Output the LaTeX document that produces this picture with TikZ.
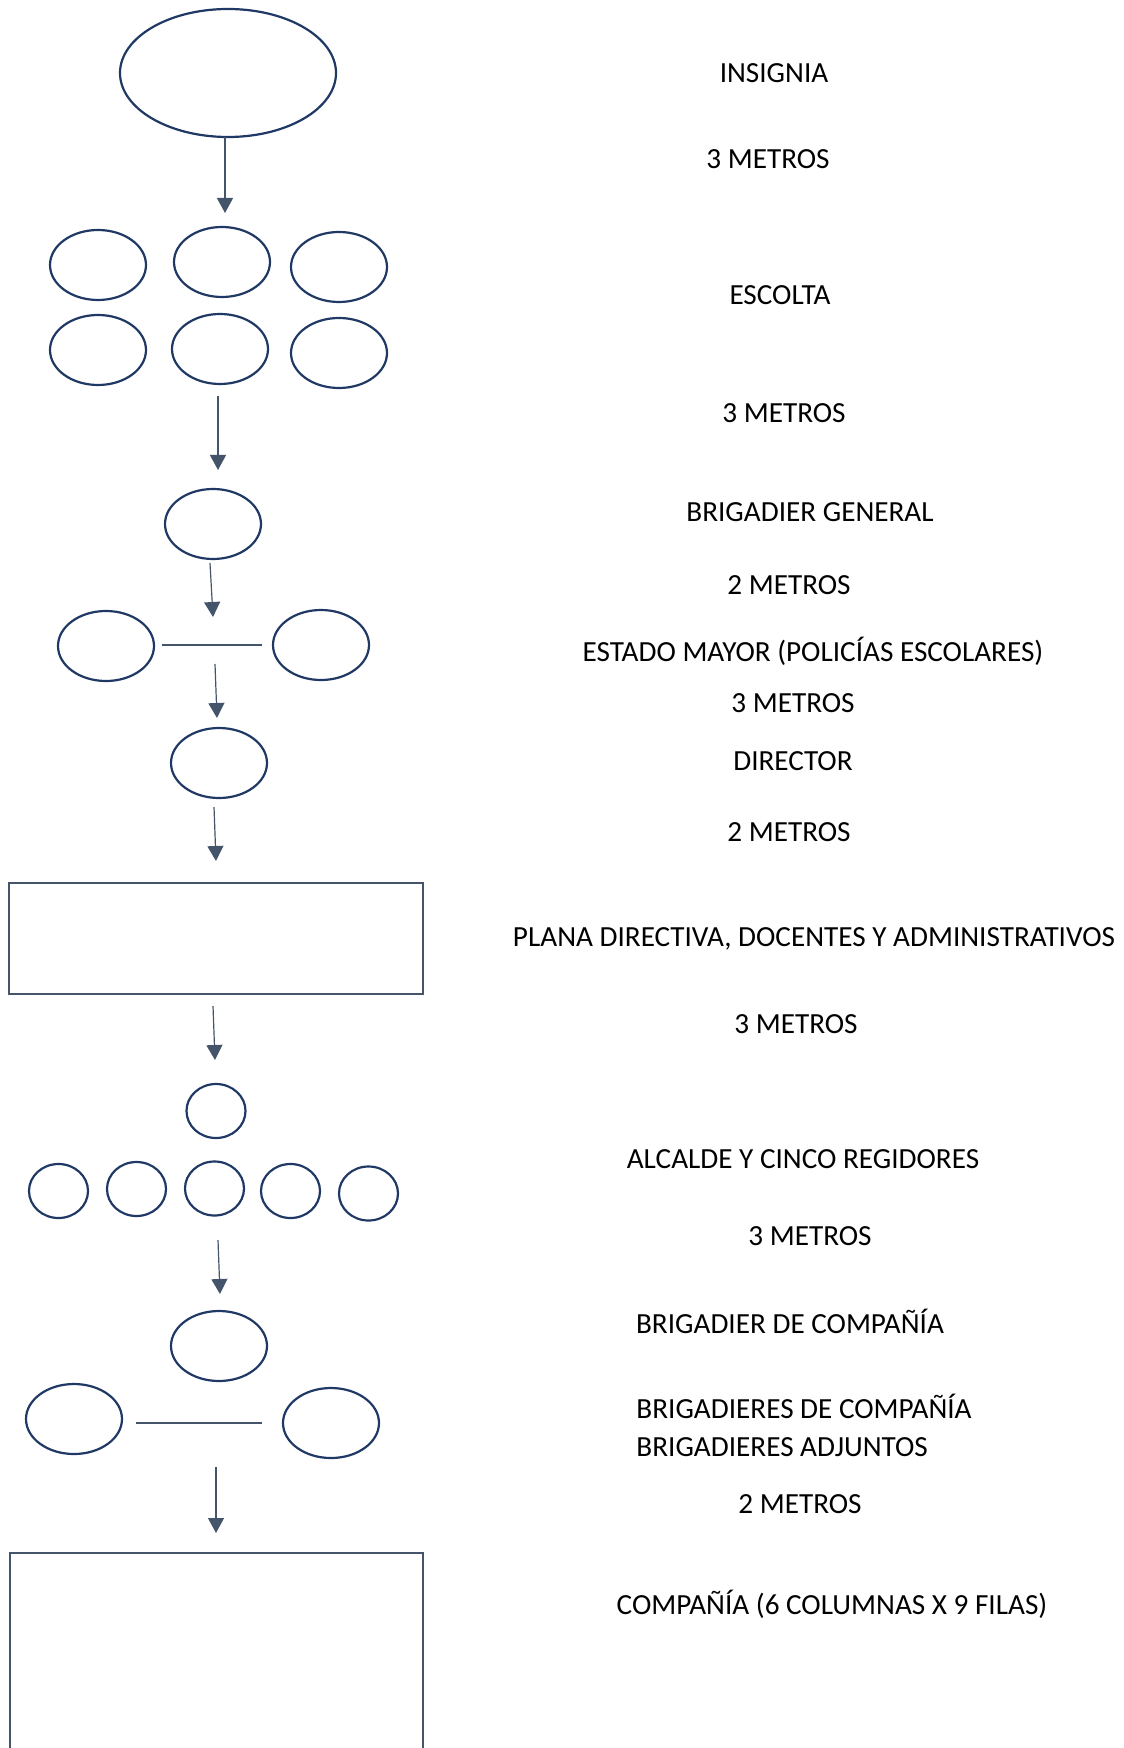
\documentclass[tikz,border=0pt]{standalone}
\usepackage{fontspec}
\setmainfont{Carlito}
\usetikzlibrary{shapes.geometric,arrows.meta}
\definecolor{navy}{HTML}{1F3864}
\definecolor{slate}{HTML}{44546A}
\begin{document}
\begin{tikzpicture}[x=0.5pt,y=-0.5pt,
  ell/.style={ellipse,draw=navy,line width=1.1pt,inner sep=0pt,outer sep=0pt},
  bigell/.style={ell,minimum width=108pt,minimum height=64pt},
  medell/.style={ell,minimum width=48pt,minimum height=35pt},
  smallell/.style={ell,minimum width=29.5pt,minimum height=27pt},
  box/.style={rectangle,draw=slate,line width=1.1pt,inner sep=0pt,outer sep=0pt},
  arr/.style={draw=slate,line width=0.6pt,-{Triangle[length=7.5pt,width=8pt]}},
  link/.style={draw=slate,line width=0.6pt},
  lbl/.style={font=\fontsize{14.6pt}{17pt}\selectfont,anchor=base,inner sep=0pt,text=black}]
\useasboundingbox (0,0) rectangle (1123,1748);
\clip (0,0) rectangle (1123,1748);

% shapes
\node[bigell] (ins) at (228,73) {};
\node[medell] (e1) at (98,265) {};
\node[medell] (e2) at (222,262) {};
\node[medell] (e3) at (339,267) {};
\node[medell] (e4) at (98,350) {};
\node[medell] (e5) at (220,349) {};
\node[medell] (e6) at (339,353) {};
\node[medell] (bg) at (213,524) {};
\node[medell] (eml) at (106,646) {};
\node[medell] (emr) at (321,645) {};
\node[medell] (dir) at (219,763) {};
\node[box,minimum width=207pt,minimum height=55.5pt] (plana) at (216,938.5) {};
\node[smallell] (alc) at (216,1111) {};
\node[smallell] (r1) at (58.5,1191) {};
\node[smallell] (r2) at (136.5,1189) {};
\node[smallell] (r3) at (214.5,1188.5) {};
\node[smallell] (r4) at (290.5,1191) {};
\node[smallell] (r5) at (368.5,1193.5) {};
\node[medell] (bc) at (219,1346) {};
\node[medell] (bcl) at (74,1419) {};
\node[medell] (bcr) at (331,1423) {};
\node[box,minimum width=206.5pt,minimum height=123.5pt] (comp) at (216.5,1676.5) {};

% connectors
\coordinate (a1s) at (225,137);  \coordinate (a1e) at (225,213);
\coordinate (a2s) at (218,396);  \coordinate (a2e) at (218,470);
\coordinate (a3s) at (210,563);  \coordinate (a3e) at (213,617);
\coordinate (a4s) at (215,664);  \coordinate (a4e) at (217,718);
\coordinate (a5s) at (214,807);  \coordinate (a5e) at (216,861);
\coordinate (a6s) at (213,1006); \coordinate (a6e) at (215,1060);
\coordinate (a7s) at (218,1240); \coordinate (a7e) at (220,1294);
\coordinate (a8s) at (216,1467); \coordinate (a8e) at (216,1533);
\draw[arr] (a1s) -- (a1e);
\draw[arr] (a2s) -- (a2e);
\draw[arr] (a3s) -- (a3e);
\draw[arr] (a4s) -- (a4e);
\draw[arr] (a5s) -- (a5e);
\draw[arr] (a6s) -- (a6e);
\draw[arr] (a7s) -- (a7e);
\draw[arr] (a8s) -- (a8e);
\draw[link,shorten <=4pt,shorten >=5.5pt] (eml.east |- emr.west) -- (emr.west);
\draw[link,shorten <=7pt,shorten >=10.5pt] (bcl.east |- bcr.west) -- (bcr.west);

% labels
\node[lbl] (t1) at (774,83) {INSIGNIA};
\node[lbl] (t2) at (768,169) {3 METROS};
\node[lbl] (t3) at (780,305) {ESCOLTA};
\node[lbl] (t4) at (784,423) {3 METROS};
\node[lbl] (t5) at (810,522) {BRIGADIER GENERAL};
\node[lbl] (t6) at (789,594) {2 METROS};
\node[lbl] (t7) at (813,661) {ESTADO MAYOR (POLICÍAS ESCOLARES)};
\node[lbl] (t8) at (793,712) {3 METROS};
\node[lbl] (t9) at (793,770) {DIRECTOR};
\node[lbl] (t10) at (789,841) {2 METROS};
\node[lbl] (t11) at (814,946) {PLANA DIRECTIVA, DOCENTES Y ADMINISTRATIVOS};
\node[lbl] (t12) at (796,1033) {3 METROS};
\node[lbl] (t13) at (803,1168) {ALCALDE Y CINCO REGIDORES};
\node[lbl] (t14) at (810,1245) {3 METROS};
\node[lbl] (t15) at (790,1333) {BRIGADIER DE COMPAÑÍA};
\node[lbl,anchor=base west] (t16) at (636,1418) {BRIGADIERES DE COMPAÑÍA};
\node[lbl,anchor=base west] (t17) at (636,1456) {BRIGADIERES ADJUNTOS};
\node[lbl] (t18) at (800,1513) {2 METROS};
\node[lbl] (t19) at (832,1614) {COMPAÑÍA (6 COLUMNAS X 9 FILAS)};
\end{tikzpicture}
\end{document}
